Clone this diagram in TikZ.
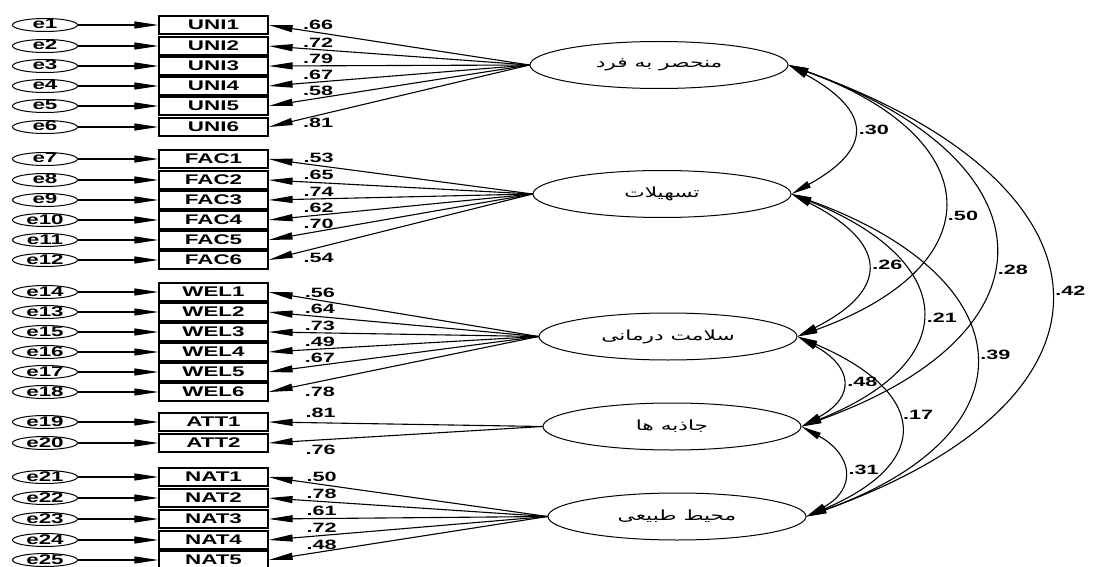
\documentclass[tikz,border=0pt]{standalone}
\usepackage{fontspec}
\usepackage{tikz}
\usetikzlibrary{arrows, arrows.meta, shapes.geometric}
\setmainfont{Liberation Sans}
\newfontfamily\amos{Liberation Sans}[FakeStretch=1.6]
\newfontfamily\farsi[Script=Arabic,FakeStretch=1.55]{DejaVu Sans}
\TeXXeTstate=1

\tikzset{
	obs/.style={draw, line width=1.2pt, minimum width=109pt, minimum height=18pt, inner sep=0pt,
		font=\amos\bfseries\fontsize{14pt}{14pt}\selectfont},
	err/.style={ellipse, draw, line width=1pt, minimum width=65pt, minimum height=13pt, inner sep=0pt,
		text height=8pt, text depth=0pt, font=\amos\bfseries\fontsize{14pt}{14pt}\selectfont},
	lat/.style={ellipse, draw, line width=1pt, minimum width=258pt, minimum height=47pt,
		font=\farsi\fontsize{14pt}{14pt}\selectfont},
	ld/.style={-{Triangle[length=24pt,width=7pt]}, line width=1.1pt},
	cov/.style={{Triangle[length=20pt,width=7pt]}-{Triangle[length=20pt,width=7pt]}, line width=1.1pt},
	coef/.style={font=\amos\bfseries\fontsize{13.5pt}{13.5pt}\selectfont, inner sep=2pt},
}

\begin{document}
\begin{tikzpicture}[x=1pt, y=-1pt]
	\useasboundingbox (0,0) rectangle (1093,567);

	%latent variables
	\node[lat] (F1) at (659,65)    {\farsi\beginR منحصر به فرد\endR};
	\node[lat] (F2) at (662,194)   {\farsi\beginR تسهیلات\endR};
	\node[lat] (F3) at (668,336.5) {\farsi\beginR سلامت درمانی\endR};
	\node[lat] (F4) at (672,426.5) {\farsi\beginR جاذبه ها\endR};
	\node[lat] (F5) at (677,516.5) {\farsi\beginR محیط طبیعی\endR};

	%UNI
	\node[err] (e1) at (45,25)  {e1}; \node[obs] (UNI1) at (213.5,25)  {UNI1}; \draw[ld] (e1) -- (UNI1);
	\node[err] (e2) at (45,46)  {e2}; \node[obs] (UNI2) at (213.5,46)  {UNI2}; \draw[ld] (e2) -- (UNI2);
	\node[err] (e3) at (45,66)  {e3}; \node[obs] (UNI3) at (213.5,66)  {UNI3}; \draw[ld] (e3) -- (UNI3);
	\node[err] (e4) at (45,86)  {e4}; \node[obs] (UNI4) at (213.5,86)  {UNI4}; \draw[ld] (e4) -- (UNI4);
	\node[err] (e5) at (45,106) {e5}; \node[obs] (UNI5) at (213.5,106) {UNI5}; \draw[ld] (e5) -- (UNI5);
	\node[err] (e6) at (45,127) {e6}; \node[obs] (UNI6) at (213.5,127) {UNI6}; \draw[ld] (e6) -- (UNI6);

	%FAC
	\node[err] (e7)  at (45,159) {e7};  \node[obs] (FAC1) at (213.5,159) {FAC1}; \draw[ld] (e7)  -- (FAC1);
	\node[err] (e8)  at (45,180) {e8};  \node[obs] (FAC2) at (213.5,180) {FAC2}; \draw[ld] (e8)  -- (FAC2);
	\node[err] (e9)  at (45,200) {e9};  \node[obs] (FAC3) at (213.5,200) {FAC3}; \draw[ld] (e9)  -- (FAC3);
	\node[err] (e10) at (45,220) {e10}; \node[obs] (FAC4) at (213.5,220) {FAC4}; \draw[ld] (e10) -- (FAC4);
	\node[err] (e11) at (45,240) {e11}; \node[obs] (FAC5) at (213.5,240) {FAC5}; \draw[ld] (e11) -- (FAC5);
	\node[err] (e12) at (45,260) {e12}; \node[obs] (FAC6) at (213.5,260) {FAC6}; \draw[ld] (e12) -- (FAC6);

	%WEL
	\node[err] (e14) at (45,292) {e14}; \node[obs] (WEL1) at (213.5,292) {WEL1}; \draw[ld] (e14) -- (WEL1);
	\node[err] (e13) at (45,312) {e13}; \node[obs] (WEL2) at (213.5,312) {WEL2}; \draw[ld] (e13) -- (WEL2);
	\node[err] (e15) at (45,332) {e15}; \node[obs] (WEL3) at (213.5,332) {WEL3}; \draw[ld] (e15) -- (WEL3);
	\node[err] (e16) at (45,352) {e16}; \node[obs] (WEL4) at (213.5,352) {WEL4}; \draw[ld] (e16) -- (WEL4);
	\node[err] (e17) at (45,372) {e17}; \node[obs] (WEL5) at (213.5,372) {WEL5}; \draw[ld] (e17) -- (WEL5);
	\node[err] (e18) at (45,392) {e18}; \node[obs] (WEL6) at (213.5,392) {WEL6}; \draw[ld] (e18) -- (WEL6);

	%ATT
	\node[err] (e19) at (45,422) {e19}; \node[obs] (ATT1) at (213.5,422) {ATT1}; \draw[ld] (e19) -- (ATT1);
	\node[err] (e20) at (45,443) {e20}; \node[obs] (ATT2) at (213.5,443) {ATT2}; \draw[ld] (e20) -- (ATT2);

	%NAT
	\node[err] (e21) at (45,477) {e21}; \node[obs] (NAT1) at (213.5,477) {NAT1}; \draw[ld] (e21) -- (NAT1);
	\node[err] (e22) at (45,498) {e22}; \node[obs] (NAT2) at (213.5,498) {NAT2}; \draw[ld] (e22) -- (NAT2);
	\node[err] (e23) at (45,519) {e23}; \node[obs] (NAT3) at (213.5,519) {NAT3}; \draw[ld] (e23) -- (NAT3);
	\node[err] (e24) at (45,540) {e24}; \node[obs] (NAT4) at (213.5,540) {NAT4}; \draw[ld] (e24) -- (NAT4);
	\node[err] (e25) at (45,560) {e25}; \node[obs] (NAT5) at (213.5,560) {NAT5}; \draw[ld] (e25) -- (NAT5);

	%loadings
	\draw[ld] (F1.west) -- node[coef, pos=0.81, above] {.66} (UNI1.east);
	\draw[ld] (F1.west) -- node[coef, pos=0.81, above] {.72} (UNI2.east);
	\draw[ld] (F1.west) -- node[coef, pos=0.81, above] {.79} (UNI3.east);
	\draw[ld] (F1.west) -- node[coef, pos=0.81, above] {.67} (UNI4.east);
	\draw[ld] (F1.west) -- node[coef, pos=0.81, above] {.58} (UNI5.east);
	\draw[ld] (F1.west) -- node[coef, pos=0.81, below] {.81} (UNI6.east);

	\draw[ld] (F2.west) -- node[coef, pos=0.81, above] {.53} (FAC1.east);
	\draw[ld] (F2.west) -- node[coef, pos=0.81, above] {.65} (FAC2.east);
	\draw[ld] (F2.west) -- node[coef, pos=0.81, above] {.74} (FAC3.east);
	\draw[ld] (F2.west) -- node[coef, pos=0.81, above] {.62} (FAC4.east);
	\draw[ld] (F2.west) -- node[coef, pos=0.81, above] {.70} (FAC5.east);
	\draw[ld] (F2.west) -- node[coef, pos=0.81, below=3pt] {.54} (FAC6.east);

	\draw[ld] (F3.west) -- node[coef, pos=0.81, above] {.56} (WEL1.east);
	\draw[ld] (F3.west) -- node[coef, pos=0.81, above] {.64} (WEL2.east);
	\draw[ld] (F3.west) -- node[coef, pos=0.81, above] {.73} (WEL3.east);
	\draw[ld] (F3.west) -- node[coef, pos=0.81, above] {.49} (WEL4.east);
	\draw[ld] (F3.west) -- node[coef, pos=0.81, above] {.67} (WEL5.east);
	\draw[ld] (F3.west) -- node[coef, pos=0.81, below=3pt] {.78} (WEL6.east);

	\draw[ld] (F4.west) -- node[coef, pos=0.81, above=3pt] {.81} (ATT1.east);
	\draw[ld] (F4.west) -- node[coef, pos=0.81, below=3pt] {.76} (ATT2.east);

	\draw[ld] (F5.west) -- node[coef, pos=0.81, above] {.50} (NAT1.east);
	\draw[ld] (F5.west) -- node[coef, pos=0.81, above] {.78} (NAT2.east);
	\draw[ld] (F5.west) -- node[coef, pos=0.81, above] {.61} (NAT3.east);
	\draw[ld] (F5.west) -- node[coef, pos=0.81, above] {.72} (NAT4.east);
	\draw[ld] (F5.west) -- node[coef, pos=0.81, above] {.48} (NAT5.east);

	%correlations
	\draw[cov] (F1.east) .. controls +(83,46)  and +(83,-46)  .. node[coef, pos=0.5,  right=4pt] {.30} (F2.east);
	\draw[cov] (F1.east) .. controls +(199,72) and +(199,-72) .. node[coef, pos=0.55, right=4pt] {.50} (F3.east);
	\draw[cov] (F1.east) .. controls +(264,95) and +(264,-95) .. node[coef, pos=0.56, right=4pt] {.28} (F4.east);
	\draw[cov] (F1.east) .. controls +(335,120) and +(335,-120) .. node[coef, pos=0.5, right=4pt] {.42} (F5.east);
	\draw[cov] (F2.east) .. controls +(95,48)  and +(95,-48)  .. node[coef, pos=0.5,  right=4pt] {.26} (F3.east);
	\draw[cov] (F2.east) .. controls +(165,66) and +(165,-66) .. node[coef, pos=0.53, right=4pt] {.21} (F4.east);
	\draw[cov] (F2.east) .. controls +(233,84) and +(233,-84) .. node[coef, pos=0.5,  right=4pt] {.39} (F5.east);
	\draw[cov] (F3.east) .. controls +(55,30)  and +(55,-30)  .. node[coef, pos=0.5,  right=4pt] {.48} (F4.east);
	\draw[cov] (F3.east) .. controls +(129,55) and +(129,-55) .. node[coef, pos=0.44, right=4pt] {.17} (F5.east);
	\draw[cov] (F4.east) .. controls +(51,28)  and +(51,-28)  .. node[coef, pos=0.48, right=4pt] {.31} (F5.east);

	%\draw[help lines] (0,0) grid[step=50] (1093,567);
\end{tikzpicture}
\end{document}
